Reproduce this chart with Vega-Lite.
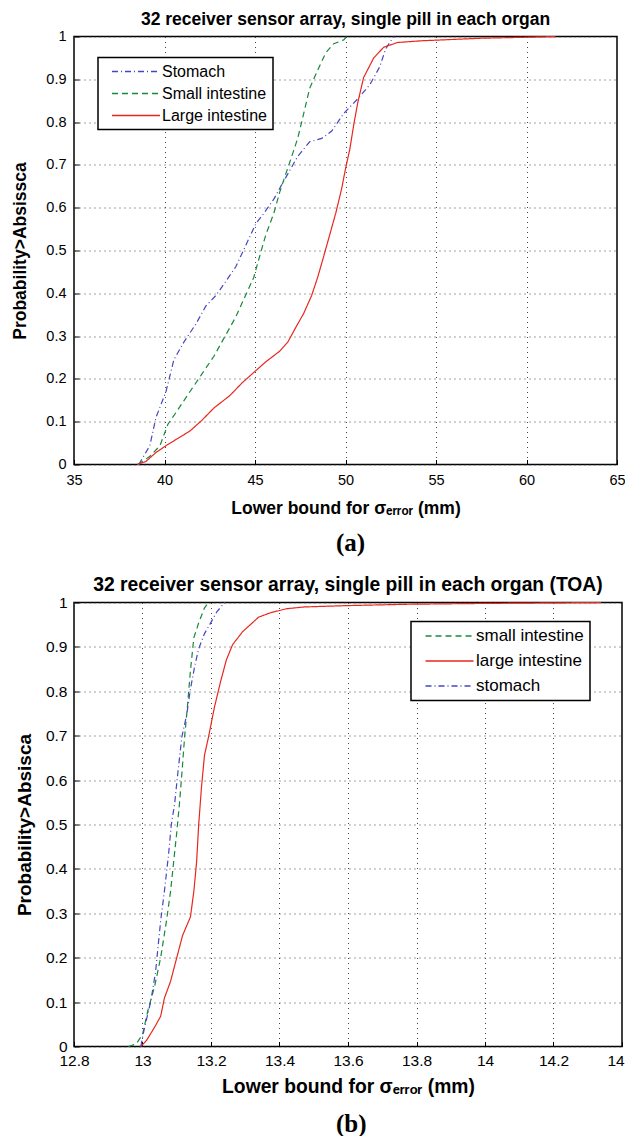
{
  "$schema": "https://vega.github.io/schema/vega-lite/v6.json",
  "background": "white",
  "padding": {"left": 11, "top": 9.5, "right": 4, "bottom": 2},
  "datasets": {
    "a": [
      {"organ": "Stomach", "x": 38.58, "p": 0}, {"organ": "Stomach", "x": 39.19, "p": 0.044}, {"organ": "Stomach", "x": 39.53, "p": 0.11}, {"organ": "Stomach", "x": 40.08, "p": 0.17}, {"organ": "Stomach", "x": 40.52, "p": 0.245}, {"organ": "Stomach", "x": 41.07, "p": 0.286}, {"organ": "Stomach", "x": 41.73, "p": 0.328}, {"organ": "Stomach", "x": 42.28, "p": 0.37}, {"organ": "Stomach", "x": 42.84, "p": 0.395}, {"organ": "Stomach", "x": 43.39, "p": 0.428}, {"organ": "Stomach", "x": 43.94, "p": 0.462}, {"organ": "Stomach", "x": 44.49, "p": 0.512}, {"organ": "Stomach", "x": 45.04, "p": 0.562}, {"organ": "Stomach", "x": 45.49, "p": 0.587}, {"organ": "Stomach", "x": 46.04, "p": 0.62}, {"organ": "Stomach", "x": 46.48, "p": 0.654}, {"organ": "Stomach", "x": 46.92, "p": 0.687}, {"organ": "Stomach", "x": 47.36, "p": 0.72}, {"organ": "Stomach", "x": 48.02, "p": 0.754}, {"organ": "Stomach", "x": 48.69, "p": 0.762}, {"organ": "Stomach", "x": 49.24, "p": 0.779}, {"organ": "Stomach", "x": 49.9, "p": 0.82}, {"organ": "Stomach", "x": 50.67, "p": 0.854}, {"organ": "Stomach", "x": 51.34, "p": 0.887}, {"organ": "Stomach", "x": 51.89, "p": 0.929}, {"organ": "Stomach", "x": 52.22, "p": 0.971}, {"organ": "Stomach", "x": 52.66, "p": 1.0},
      {"organ": "Small intestine", "x": 38.53, "p": 0}, {"organ": "Small intestine", "x": 39.19, "p": 0.019}, {"organ": "Small intestine", "x": 39.75, "p": 0.044}, {"organ": "Small intestine", "x": 40.19, "p": 0.094}, {"organ": "Small intestine", "x": 40.74, "p": 0.128}, {"organ": "Small intestine", "x": 41.4, "p": 0.17}, {"organ": "Small intestine", "x": 42.06, "p": 0.211}, {"organ": "Small intestine", "x": 42.73, "p": 0.253}, {"organ": "Small intestine", "x": 43.39, "p": 0.303}, {"organ": "Small intestine", "x": 43.94, "p": 0.345}, {"organ": "Small intestine", "x": 44.38, "p": 0.386}, {"organ": "Small intestine", "x": 44.93, "p": 0.437}, {"organ": "Small intestine", "x": 45.26, "p": 0.487}, {"organ": "Small intestine", "x": 45.6, "p": 0.537}, {"organ": "Small intestine", "x": 46.04, "p": 0.587}, {"organ": "Small intestine", "x": 46.37, "p": 0.637}, {"organ": "Small intestine", "x": 46.7, "p": 0.679}, {"organ": "Small intestine", "x": 47.03, "p": 0.72}, {"organ": "Small intestine", "x": 47.36, "p": 0.762}, {"organ": "Small intestine", "x": 47.69, "p": 0.82}, {"organ": "Small intestine", "x": 48.02, "p": 0.879}, {"organ": "Small intestine", "x": 48.46, "p": 0.921}, {"organ": "Small intestine", "x": 48.91, "p": 0.962}, {"organ": "Small intestine", "x": 49.35, "p": 0.983}, {"organ": "Small intestine", "x": 49.9, "p": 0.992}, {"organ": "Small intestine", "x": 50.06, "p": 1.0},
      {"organ": "Large intestine", "x": 38.49, "p": 0}, {"organ": "Large intestine", "x": 38.97, "p": 0.007}, {"organ": "Large intestine", "x": 39.53, "p": 0.028}, {"organ": "Large intestine", "x": 40.08, "p": 0.044}, {"organ": "Large intestine", "x": 40.74, "p": 0.061}, {"organ": "Large intestine", "x": 41.4, "p": 0.078}, {"organ": "Large intestine", "x": 42.06, "p": 0.103}, {"organ": "Large intestine", "x": 42.73, "p": 0.132}, {"organ": "Large intestine", "x": 43.61, "p": 0.161}, {"organ": "Large intestine", "x": 44.27, "p": 0.19}, {"organ": "Large intestine", "x": 44.93, "p": 0.215}, {"organ": "Large intestine", "x": 45.6, "p": 0.24}, {"organ": "Large intestine", "x": 46.37, "p": 0.265}, {"organ": "Large intestine", "x": 46.81, "p": 0.286}, {"organ": "Large intestine", "x": 47.25, "p": 0.32}, {"organ": "Large intestine", "x": 47.69, "p": 0.353}, {"organ": "Large intestine", "x": 48.13, "p": 0.395}, {"organ": "Large intestine", "x": 48.46, "p": 0.437}, {"organ": "Large intestine", "x": 48.8, "p": 0.487}, {"organ": "Large intestine", "x": 49.13, "p": 0.537}, {"organ": "Large intestine", "x": 49.46, "p": 0.587}, {"organ": "Large intestine", "x": 49.79, "p": 0.645}, {"organ": "Large intestine", "x": 50.02, "p": 0.695}, {"organ": "Large intestine", "x": 50.24, "p": 0.737}, {"organ": "Large intestine", "x": 50.46, "p": 0.795}, {"organ": "Large intestine", "x": 50.68, "p": 0.846}, {"organ": "Large intestine", "x": 51.0, "p": 0.904}, {"organ": "Large intestine", "x": 51.56, "p": 0.95}, {"organ": "Large intestine", "x": 52.11, "p": 0.975}, {"organ": "Large intestine", "x": 52.88, "p": 0.986}, {"organ": "Large intestine", "x": 54.2, "p": 0.99}, {"organ": "Large intestine", "x": 55.31, "p": 0.992}, {"organ": "Large intestine", "x": 57.52, "p": 0.996}, {"organ": "Large intestine", "x": 59.72, "p": 0.998}, {"organ": "Large intestine", "x": 61.6, "p": 1.0}
    ],
    "b": [
      {"organ": "small intestine", "x": 12.959, "p": 0}, {"organ": "small intestine", "x": 12.982, "p": 0.006}, {"organ": "small intestine", "x": 13.0, "p": 0.027}, {"organ": "small intestine", "x": 13.017, "p": 0.085}, {"organ": "small intestine", "x": 13.035, "p": 0.134}, {"organ": "small intestine", "x": 13.053, "p": 0.2}, {"organ": "small intestine", "x": 13.07, "p": 0.283}, {"organ": "small intestine", "x": 13.082, "p": 0.35}, {"organ": "small intestine", "x": 13.091, "p": 0.416}, {"organ": "small intestine", "x": 13.1, "p": 0.482}, {"organ": "small intestine", "x": 13.108, "p": 0.548}, {"organ": "small intestine", "x": 13.115, "p": 0.615}, {"organ": "small intestine", "x": 13.123, "p": 0.698}, {"organ": "small intestine", "x": 13.131, "p": 0.764}, {"organ": "small intestine", "x": 13.14, "p": 0.847}, {"organ": "small intestine", "x": 13.15, "p": 0.921}, {"organ": "small intestine", "x": 13.164, "p": 0.954}, {"organ": "small intestine", "x": 13.181, "p": 0.988}, {"organ": "small intestine", "x": 13.193, "p": 1.0},
      {"organ": "large intestine", "x": 12.995, "p": 0}, {"organ": "large intestine", "x": 13.012, "p": 0.014}, {"organ": "large intestine", "x": 13.035, "p": 0.043}, {"organ": "large intestine", "x": 13.053, "p": 0.068}, {"organ": "large intestine", "x": 13.064, "p": 0.109}, {"organ": "large intestine", "x": 13.082, "p": 0.147}, {"organ": "large intestine", "x": 13.1, "p": 0.2}, {"organ": "large intestine", "x": 13.117, "p": 0.25}, {"organ": "large intestine", "x": 13.14, "p": 0.292}, {"organ": "large intestine", "x": 13.15, "p": 0.35}, {"organ": "large intestine", "x": 13.158, "p": 0.416}, {"organ": "large intestine", "x": 13.164, "p": 0.499}, {"organ": "large intestine", "x": 13.172, "p": 0.582}, {"organ": "large intestine", "x": 13.181, "p": 0.656}, {"organ": "large intestine", "x": 13.193, "p": 0.698}, {"organ": "large intestine", "x": 13.21, "p": 0.764}, {"organ": "large intestine", "x": 13.228, "p": 0.822}, {"organ": "large intestine", "x": 13.245, "p": 0.871}, {"organ": "large intestine", "x": 13.263, "p": 0.905}, {"organ": "large intestine", "x": 13.292, "p": 0.934}, {"organ": "large intestine", "x": 13.339, "p": 0.967}, {"organ": "large intestine", "x": 13.374, "p": 0.977}, {"organ": "large intestine", "x": 13.421, "p": 0.986}, {"organ": "large intestine", "x": 13.473, "p": 0.99}, {"organ": "large intestine", "x": 13.596, "p": 0.993}, {"organ": "large intestine", "x": 13.772, "p": 0.996}, {"organ": "large intestine", "x": 14.005, "p": 0.998}, {"organ": "large intestine", "x": 14.339, "p": 1.0},
      {"organ": "stomach", "x": 12.995, "p": 0}, {"organ": "stomach", "x": 13.006, "p": 0.043}, {"organ": "stomach", "x": 13.024, "p": 0.101}, {"organ": "stomach", "x": 13.038, "p": 0.167}, {"organ": "stomach", "x": 13.053, "p": 0.283}, {"organ": "stomach", "x": 13.064, "p": 0.35}, {"organ": "stomach", "x": 13.076, "p": 0.432}, {"organ": "stomach", "x": 13.084, "p": 0.499}, {"organ": "stomach", "x": 13.094, "p": 0.548}, {"organ": "stomach", "x": 13.103, "p": 0.615}, {"organ": "stomach", "x": 13.115, "p": 0.698}, {"organ": "stomach", "x": 13.129, "p": 0.747}, {"organ": "stomach", "x": 13.14, "p": 0.805}, {"organ": "stomach", "x": 13.152, "p": 0.855}, {"organ": "stomach", "x": 13.164, "p": 0.896}, {"organ": "stomach", "x": 13.181, "p": 0.93}, {"organ": "stomach", "x": 13.199, "p": 0.954}, {"organ": "stomach", "x": 13.217, "p": 0.979}, {"organ": "stomach", "x": 13.24, "p": 1.0}
    ]
  },
  "config": {
    "font": "Liberation Sans",
    "view": {"stroke": "black", "strokeWidth": 1.5},
    "axis": {
      "grid": true, "gridColor": "#444", "gridDash": [1, 4], "gridWidth": 1,
      "domain": false, "ticks": true, "tickColor": "black", "tickSize": -5, "tickWidth": 1,
      "labelFont": "Liberation Sans", "labelColor": "black",
      "labelFlush": false, "labelOverlap": false, "labelBound": false,
      "titleFont": "Liberation Sans", "titleFontWeight": "bold", "titleColor": "black"
    },
    "title": {"font": "Liberation Sans", "fontWeight": "bold", "color": "black", "anchor": "middle"},
    "legend": {
      "orient": "none", "strokeColor": "black", "strokeWidth": 1.5, "fillColor": "white", "padding": 6,
      "labelFont": "Liberation Sans", "labelColor": "black",
      "symbolType": "M0,0H16", "symbolSize": 36, "symbolStrokeWidth": 1.5, "labelOffset": 42
    },
    "concat": {"spacing": 18}
  },
  "resolve": {"scale": {"color": "independent", "strokeDash": "independent", "x": "independent", "y": "independent"}, "legend": {"color": "independent", "strokeDash": "independent"}},
  "vconcat": [
    {
      "title": {"text": "(a)", "orient": "bottom", "anchor": "middle", "font": "Liberation Serif", "fontSize": 25, "fontWeight": "bold", "offset": 14, "frame": "bounds", "dx": 32},
      "vconcat": [
        {
          "title": {"text": "32 receiver sensor array, single pill in each organ", "frame": "group", "fontSize": 17.5, "offset": 0},
          "width": 543, "height": 428,
          "data": {"name": "a"},
          "mark": {"type": "line", "strokeWidth": 1.2},
          "encoding": {
            "x": {"field": "x", "type": "quantitative", "scale": {"domain": [35, 65], "nice": false, "zero": false},
                  "axis": {"values": [35, 40, 45, 50, 55, 60, 65], "format": "~g", "title": "Lower bound for σₑᵣᵣₒᵣ (mm)", "labelFontSize": 14.5, "titleFontSize": 17.5, "labelPadding": 14, "titlePadding": 12}},
            "y": {"field": "p", "type": "quantitative", "scale": {"domain": [0, 1], "nice": false},
                  "axis": {"values": [0, 0.1, 0.2, 0.3, 0.4, 0.5, 0.6, 0.7, 0.8, 0.9, 1], "format": "~g", "title": "Probability>Absissca", "labelFontSize": 14.5, "titleFontSize": 17.5, "labelPadding": 13, "titlePadding": 16}},
            "color": {"field": "organ", "type": "nominal",
                      "scale": {"domain": ["Stomach", "Small intestine", "Large intestine"], "range": ["#4646c3", "#168a38", "#e8271f"]},
                      "legend": {"title": null, "legendX": 24, "legendY": 21, "labelFontSize": 16, "rowPadding": 6}},
            "strokeDash": {"field": "organ", "type": "nominal",
                      "scale": {"domain": ["Stomach", "Small intestine", "Large intestine"], "range": [[6, 3, 1, 3], [6, 4], [1, 0]]},
                      "legend": {"title": null, "legendX": 24, "legendY": 21, "labelFontSize": 16, "rowPadding": 6}},
            "order": {"field": "x", "type": "quantitative"}
          }
        }
      ]
    },
    {
      "title": {"text": "(b)", "orient": "bottom", "anchor": "middle", "font": "Liberation Serif", "fontSize": 25, "fontWeight": "bold", "offset": 14.5, "frame": "bounds", "dx": 25},
      "vconcat": [
        {
          "title": {"text": "32 receiver sensor array, single pill in each organ (TOA)", "frame": "group", "fontSize": 19.3, "offset": 0},
          "width": 548, "height": 444,
          "data": {"name": "b"},
          "mark": {"type": "line", "strokeWidth": 1.2},
          "encoding": {
            "x": {"field": "x", "type": "quantitative", "scale": {"domain": [12.8, 14.4], "nice": false, "zero": false},
                  "axis": {"values": [12.8, 13, 13.2, 13.4, 13.6, 13.8, 14, 14.2, 14.4], "format": "~g", "title": "Lower bound for σₑᵣᵣₒᵣ (mm)", "labelFontSize": 15.5, "titleFontSize": 19.3, "labelPadding": 12, "titlePadding": 8}},
            "y": {"field": "p", "type": "quantitative", "scale": {"domain": [0, 1], "nice": false},
                  "axis": {"values": [0, 0.1, 0.2, 0.3, 0.4, 0.5, 0.6, 0.7, 0.8, 0.9, 1], "format": "~g", "title": "Probability>Absisca", "labelFontSize": 15.5, "titleFontSize": 19, "labelPadding": 12, "titlePadding": 11}},
            "color": {"field": "organ", "type": "nominal",
                      "scale": {"domain": ["small intestine", "large intestine", "stomach"], "range": ["#168a38", "#e8271f", "#4646c3"]},
                      "legend": {"title": null, "legendX": 337, "legendY": 19, "labelFontSize": 17, "rowPadding": 7}},
            "strokeDash": {"field": "organ", "type": "nominal",
                      "scale": {"domain": ["small intestine", "large intestine", "stomach"], "range": [[6, 4], [1, 0], [6, 3, 1, 3]]},
                      "legend": {"title": null, "legendX": 337, "legendY": 19, "labelFontSize": 17, "rowPadding": 7}},
            "order": {"field": "x", "type": "quantitative"}
          }
        }
      ]
    }
  ]
}
